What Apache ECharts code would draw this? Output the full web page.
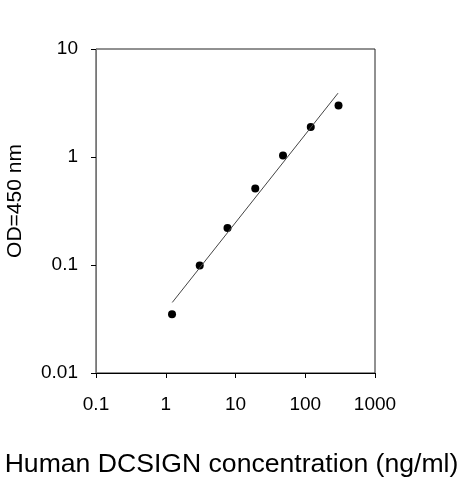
<!DOCTYPE html>
<html>
<head>
<meta charset="utf-8">
<script src="https://cdn.jsdelivr.net/npm/echarts@6/dist/echarts.min.js"></script>
<style>
	html, body { margin: 0; padding: 0; background: #fff; }
	#chart { width: 463px; height: 480px; }
</style>
</head>
<body>
<div id="chart"></div>
<script>
var concentrations = [1.23, 3.07, 7.68, 19.2, 48, 120, 300];
var odValues = [0.035, 0.099, 0.22, 0.51, 1.03, 1.9, 3.0];
var fitX = [1.24, 295];
var fitY = [0.045, 3.9];
var xTicks = ['0.1', '1', '10', '100', '1000'];
var yTicks = ['0.01', '0.1', '1', '10'];

var points = concentrations.map(function(c, i) {
	return [c, odValues[i]];
});
var fitLine = fitX.map(function(x, i) {
	return [x, fitY[i]];
});

var fmt = function(list) {
	return function(v) {
		for (var i = 0; i < list.length; i++) {
			if (Math.abs(Math.log10(v) - Math.log10(+list[i])) < 0.01) return list[i];
		}
		return '';
	};
};

var chart = echarts.init(document.getElementById('chart'));
chart.setOption({
	animation: false,
	backgroundColor: '#fff',
	grid: {
		left: 96,
		right: 88,
		top: 49,
		bottom: 107,
		outerBoundsMode: 'none',
		containLabel: false,
		show: true,
		borderColor: '#222',
		borderWidth: 1
	},
	xAxis: {
		type: 'log',
		logBase: 10,
		min: 0.1,
		max: 1000,
		name: 'Human DCSIGN concentration (ng/ml)',
		nameLocation: 'middle',
		nameGap: 78,
		nameTextStyle: { fontFamily: 'Liberation Sans', fontSize: 26.6, color: '#000', padding: [0, 8, 0, 0] },
		axisLine: { lineStyle: { color: '#000', width: 1 } },
		axisTick: { show: true, length: 5, lineStyle: { color: '#000' } },
		axisLabel: { margin: 22, fontFamily: 'Liberation Sans', fontSize: 19, color: '#000', formatter: fmt(xTicks) },
		splitLine: { show: false },
		minorTick: { show: false }
	},
	yAxis: {
		type: 'log',
		logBase: 10,
		min: 0.01,
		max: 10,
		name: 'OD=450 nm',
		nameLocation: 'middle',
		nameGap: 70,
		nameTextStyle: { fontFamily: 'Liberation Sans', fontSize: 21, color: '#000', padding: [0, 0, 0, 20] },
		axisLine: { lineStyle: { color: '#777', width: 1 } },
		axisTick: { show: true, length: 5, lineStyle: { color: '#000' } },
		axisLabel: { margin: 18, fontFamily: 'Liberation Sans', fontSize: 19, color: '#000', formatter: fmt(yTicks) },
		splitLine: { show: false },
		minorTick: { show: false }
	},
	series: [{
		type: 'line',
		data: fitLine,
		symbol: 'none',
		lineStyle: { color: '#444', width: 1 },
		silent: true
	}, {
		type: 'scatter',
		data: points,
		symbol: 'circle',
		symbolSize: 8,
		itemStyle: { color: '#000', opacity: 1 }
	}]
});
</script>
</body>
</html>
